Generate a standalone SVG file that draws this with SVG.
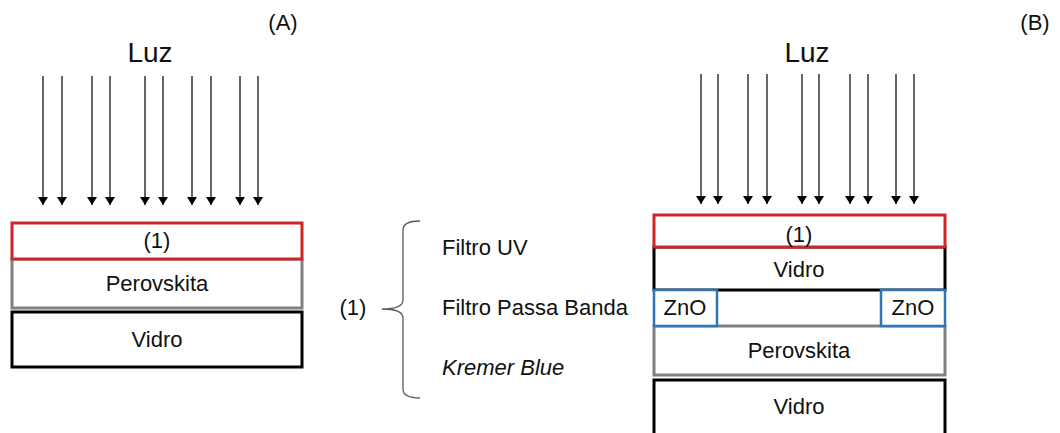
<svg xmlns="http://www.w3.org/2000/svg" width="1060" height="433" viewBox="0 0 1060 433">
<defs>
<marker id="ah" viewBox="0 0 8 10" refX="8" refY="5" markerWidth="8" markerHeight="10" markerUnits="userSpaceOnUse" orient="auto">
<path d="M0,0 L8,5 L0,10 Z" fill="#000"/>
</marker>
<style>
text{font-family:"Liberation Sans",Arial,sans-serif;fill:#111;font-size:22px}
.c{text-anchor:middle}
.luz{font-size:28px}
.red{fill:#fff;stroke:#d0232a;stroke-width:3}
.blk{fill:#fff;stroke:#000;stroke-width:3}
.gry{fill:#fff;stroke:#808080;stroke-width:3}
.blu{fill:#fff;stroke:#2e75b6;stroke-width:2.5}
.arr line{stroke:#000;stroke-width:1.2;marker-end:url(#ah)}
</style>
</defs>
<rect width="1060" height="433" fill="#fff"/>

<text class="c" x="283" y="30" font-size="20">(A)</text>
<text class="c" x="1035" y="30" font-size="20">(B)</text>
<text class="c luz" x="150" y="62">Luz</text>
<text class="c luz" x="807" y="62">Luz</text>

<g id="connectors" class="arr">
<line x1="43" y1="76" x2="43" y2="205"/>
<line x1="62" y1="76" x2="62" y2="205"/>
<line x1="92" y1="76" x2="92" y2="205"/>
<line x1="110" y1="76" x2="110" y2="205"/>
<line x1="145" y1="76" x2="145" y2="205"/>
<line x1="163" y1="76" x2="163" y2="205"/>
<line x1="192" y1="76" x2="192" y2="205"/>
<line x1="211" y1="76" x2="211" y2="205"/>
<line x1="240" y1="76" x2="240" y2="205"/>
<line x1="258" y1="76" x2="258" y2="205"/>
<line x1="701" y1="74" x2="701" y2="204"/>
<line x1="718" y1="74" x2="718" y2="204"/>
<line x1="748" y1="74" x2="748" y2="204"/>
<line x1="767" y1="74" x2="767" y2="204"/>
<line x1="802" y1="74" x2="802" y2="204"/>
<line x1="819" y1="74" x2="819" y2="204"/>
<line x1="850" y1="74" x2="850" y2="204"/>
<line x1="868" y1="74" x2="868" y2="204"/>
<line x1="896" y1="74" x2="896" y2="204"/>
<line x1="914" y1="74" x2="914" y2="204"/>
</g>

<g id="A-perovskita"><rect class="gry" x="12" y="259" width="290" height="49"/><text class="c" x="157" y="291">Perovskita</text></g>
<g id="A-vidro"><rect class="blk" x="12" y="312" width="290" height="55"/><text class="c" x="157" y="347">Vidro</text></g>
<g id="A-filtro"><rect class="red" x="12" y="223" width="290" height="36"/><text class="c" x="157" y="248">(1)</text></g>

<g id="legenda">
<text class="c" x="353" y="315">(1)</text>
<path d="M420,221 Q403,221 403,230 L403,300 Q403,309 382,309 Q403,309 403,318 L403,389 Q403,398 420,398" fill="none" stroke="#595959" stroke-width="1.3"/>
<text x="442" y="255">Filtro UV</text>
<text x="442" y="315">Filtro Passa Banda</text>
<text x="442" y="375" font-style="italic">Kremer Blue</text>
</g>

<g id="B-perovskita"><rect class="gry" x="654" y="326" width="291" height="49"/><text class="c" x="799" y="358">Perovskita</text></g>
<g id="B-vidro-top"><rect class="blk" x="654" y="247" width="291" height="43"/><text class="c" x="799" y="277">Vidro</text></g>
<g id="B-zno-left"><rect class="blu" x="654" y="290" width="63" height="36"/><text class="c" x="685" y="315">ZnO</text></g>
<g id="B-zno-right"><rect class="blu" x="881" y="290" width="64" height="36"/><text class="c" x="913" y="315">ZnO</text></g>
<g id="B-vidro-bottom"><rect class="blk" x="654" y="380" width="291" height="60"/><text class="c" x="799" y="414">Vidro</text></g>
<g id="B-filtro"><rect class="red" x="654" y="215" width="291" height="32"/><text class="c" x="799" y="242">(1)</text></g>
</svg>
